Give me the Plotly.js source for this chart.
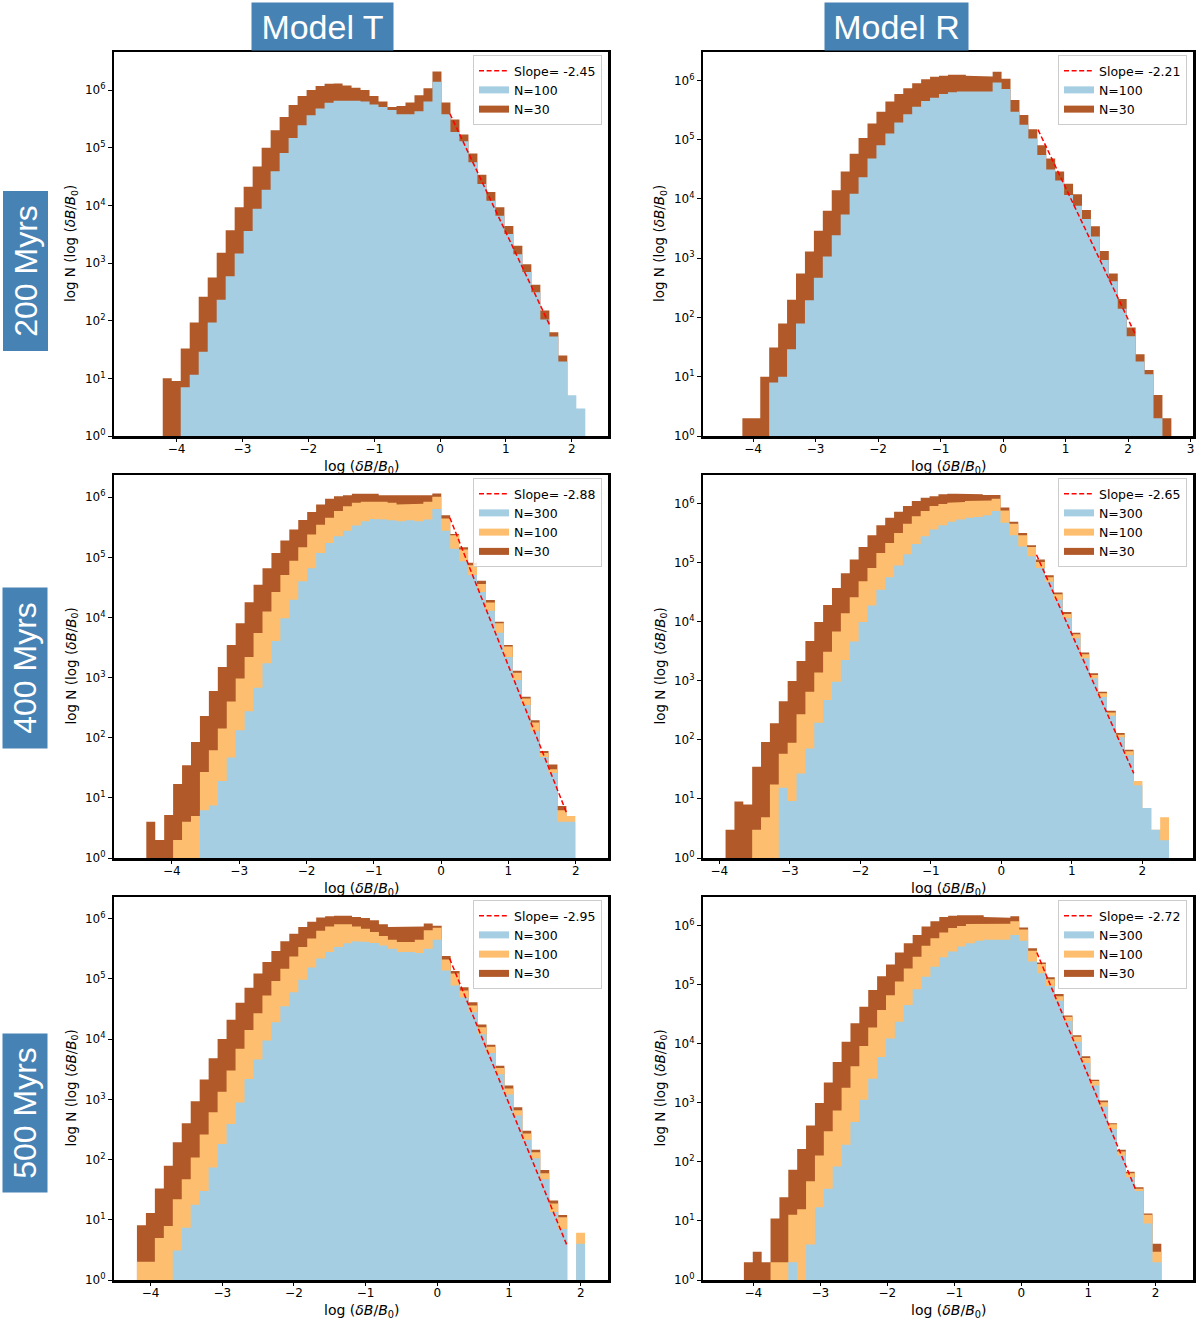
<!DOCTYPE html>
<html>
<head>
<meta charset="utf-8">
<script src="https://cdn.plot.ly/plotly-3.0.1.min.js"></script>
<style>
  html, body { margin: 0; padding: 0; background: #ffffff; }
  #chart { width: 1200px; height: 1322px; }
</style>
</head>
<body>
<div id="chart"></div>
<script>
// ---------------- DATA ----------------
const xTickValues = [-4, -3, -2, -1, 0, 1, 2, 3];
const yTickValues = [1, 10, 100, 1000, 10000, 100000, 1000000];
const yTickLabels = ['10<sup>0</sup>', '10<sup>1</sup>', '10<sup>2</sup>', '10<sup>3</sup>', '10<sup>4</sup>', '10<sup>5</sup>', '10<sup>6</sup>'];
const columnTitles = ['Model T', 'Model R'];
const rowTitles = ['200 Myrs', '400 Myrs', '500 Myrs'];

// Model T, 200 Myrs  (bins: first left edge, bin width)
const t200_binStart = -4.21, t200_binWidth = 0.1365;
const t200_n30 = [10, 9, 33, 93, 260, 560, 1500, 3700, 9300, 21000, 47000, 100000, 200000, 340000, 550000, 790000, 1.0e6, 1.17e6, 1.29e6, 1.3e6, 1.2e6, 1.1e6, 1.0e6, 790000, 630000, 510000, 530000, 610000, 810000, 1.07e6, 2.1e6, 610000, 310000, 170000, 79000, 34000, 17000, 9300, 4400, 2000, 950, 420, 150, 63, 25, null, null];
const t200_n100 = [null, null, 7, 11.5, 29, 93, 230, 590, 1470, 3600, 8700, 18700, 39000, 81000, 148000, 245000, 365000, 480000, 600000, 650000, 660000, 650000, 630000, 560000, 510000, 450000, 380000, 380000, 430000, 630000, 1.4e6, 380000, 187000, 129000, 56000, 23500, 12000, 6600, 3200, 1420, 700, 310, 105, 53, 19.5, 5.1, 3];
const t200_slopeLabel = 'Slope= -2.45';
const t200_slopeX = [0.15, 1.67];
const t200_slopeY = [389000, 81];

// Model R, 200 Myrs
const r200_binStart = -4.17, r200_binWidth = 0.143;
const r200_n30 = [2, 2, 10, 31, 79, 200, 550, 1300, 2900, 6300, 14000, 29000, 58000, 107000, 188000, 295000, 440000, 590000, 740000, 900000, 1.05e6, 1.15e6, 1.2e6, 1.25e6, 1.25e6, 1.2e6, 1.17e6, 1.17e6, 1.4e6, 1.07e6, 470000, 260000, 150000, 81000, 48000, 29000, 18000, 12000, 6500, 3450, 1330, 550, 205, 68, 24, 13, 4.9, 2];
const r200_n100 = [null, null, null, 8, 10, 29, 79, 195, 470, 1070, 2450, 5450, 12200, 23300, 48000, 81000, 127000, 196000, 270000, 360000, 450000, 510000, 590000, 630000, 650000, 650000, 650000, 650000, 920000, 720000, 295000, 178000, 105000, 55000, 31500, 20500, 11700, 7700, 4600, 2330, 930, 410, 140, 48, 18, 11, 2, null];
const r200_slopeLabel = 'Slope= -2.21';
const r200_slopeX = [0.56, 2.12];
const r200_slopeY = [148000, 51];

// Model T, 400 Myrs
const t400_binStart = -4.38, t400_binWidth = 0.1328;
const t400_n30 = [4, 2, 5.2, 17, 35, 85, 230, 600, 1500, 3500, 8000, 18000, 35000, 66000, 118000, 190000, 290000, 420000, 570000, 760000, 940000, 1.04e6, 1.08e6, 1.14e6, 1.14e6, 1.14e6, 1.08e6, 1.08e6, 1.05e6, 1.05e6, 1.05e6, 1.08e6, 1.15e6, 500000, 245000, 147000, 81000, 41000, 19500, 8500, 3500, 1300, 480, 195, 60, 36, 7.3, null];
const t400_n100 = [null, null, null, 2, 4, 5, 27, 62, 142, 400, 970, 2200, 5500, 12600, 26500, 51000, 88000, 147000, 240000, 350000, 455000, 590000, 710000, 810000, 840000, 860000, 840000, 810000, 760000, 760000, 780000, 840000, 1.02e6, 445000, 234000, 135000, 74000, 36000, 17700, 8000, 3300, 1200, 450, 180, 56, 30, 6.2, 5];
const t400_n300 = [null, null, null, null, null, null, 6.2, 7.5, 19, 47, 133, 276, 680, 1730, 4050, 9700, 19700, 40000, 66000, 118000, 174000, 225000, 278000, 340000, 400000, 436000, 425000, 415000, 400000, 415000, 400000, 425000, 640000, 278000, 139000, 86000, 51000, 26500, 13000, 5600, 2200, 910, 350, 128, 48, 26, 4, 4];
const t400_slopeLabel = 'Slope= -2.88';
const t400_slopeX = [0.13, 1.86];
const t400_slopeY = [457000, 5.8];

// Model R, 400 Myrs
const r400_binStart = -3.91, r400_binWidth = 0.1258;
const r400_n30 = [3, 9, 8, 35, 92, 190, 450, 990, 2150, 4700, 9800, 19000, 37000, 66000, 112000, 182000, 288000, 425000, 570000, 720000, 900000, 1.1e6, 1.25e6, 1.32e6, 1.42e6, 1.45e6, 1.45e6, 1.45e6, 1.42e6, 1.38e6, 1.38e6, 850000, 490000, 315000, 196000, 112000, 61000, 31000, 14500, 6500, 3000, 1330, 650, 310, 130, 68, null, null, null, null];
const r400_n100 = [null, null, null, 3, 4.9, 17.6, 58, 89, 270, 650, 1370, 3100, 6800, 13800, 25700, 48000, 81000, 145000, 214000, 316000, 450000, 605000, 740000, 900000, 980000, 1.02e6, 1.05e6, 1.1e6, 1.12e6, 1.12e6, 1.2e6, 760000, 450000, 290000, 182000, 102000, 56000, 29000, 13400, 6100, 2800, 1250, 610, 290, 122, 64, 20, 7, 3, 4.9];
const r400_n300 = [null, null, null, null, null, null, 15.5, 9.2, 27, 71, 195, 470, 960, 2240, 4600, 9800, 18700, 34500, 56000, 89000, 138000, 205000, 277000, 360000, 425000, 490000, 535000, 570000, 590000, 630000, 740000, 470000, 288000, 187000, 127000, 81000, 47000, 23300, 11400, 5200, 2400, 1100, 530, 255, 110, 55, 17, 7, 3, 2];
const r400_slopeLabel = 'Slope= -2.65';
const r400_slopeX = [0.50, 1.88];
const r400_slopeY = [135000, 27];

// Model T, 500 Myrs
const t500_binStart = -4.19, t500_binWidth = 0.125;
const t500_n30 = [8.1, 13, 33, 79, 194, 400, 930, 2130, 4800, 10000, 21000, 40000, 71000, 123000, 191000, 290000, 420000, 560000, 725000, 890000, 1.05e6, 1.1e6, 1.12e6, 1.12e6, 1.07e6, 1.03e6, 940000, 810000, 725000, 725000, 725000, 745000, 830000, 760000, 240000, 135000, 73000, 41000, 17500, 8100, 3600, 1700, 740, 300, 145, 67, 21, 12, null, null];
const t500_n100 = [2, 2, 5, 7.9, 22, 47, 108, 260, 610, 1340, 3000, 6900, 14200, 27000, 53000, 92000, 148000, 236000, 340000, 470000, 630000, 745000, 810000, 810000, 745000, 680000, 600000, 515000, 447000, 410000, 410000, 447000, 645000, 710000, 210000, 123000, 64000, 36000, 15700, 7500, 3300, 1520, 660, 270, 132, 59, 18.6, 11, null, 6.1];
const t500_n300 = [null, null, null, null, 3.1, 7.4, 17.7, 30, 74, 181, 390, 890, 2180, 4570, 9500, 19000, 35000, 60000, 97000, 155000, 218000, 280000, 340000, 390000, 420000, 410000, 395000, 360000, 316000, 280000, 280000, 270000, 316000, 447000, 138000, 78000, 49000, 28000, 12000, 5900, 2600, 1200, 540, 214, 105, 47, 13.5, 7, null, 4];
const t500_slopeLabel = 'Slope= -2.95';
const t500_slopeX = [0.17, 1.81];
const t500_slopeY = [219000, 3.7];

// Model R, 500 Myrs
const r500_binStart = -4.14, r500_binWidth = 0.1325;
const r500_n30 = [2, 3, 2, 11, 25, 73, 165, 410, 990, 2200, 4900, 10700, 22000, 42000, 81000, 138000, 218000, 347000, 500000, 690000, 960000, 1.17e6, 1.38e6, 1.45e6, 1.48e6, 1.48e6, 1.48e6, 1.38e6, 1.35e6, 1.35e6, 1.42e6, 920000, 410000, 235000, 132000, 69000, 30000, 13800, 6100, 2450, 1090, 450, 160, 68, 37, 13.4, 4.1];
const r500_n100 = [null, null, null, 2, 2, 12.7, 15.8, 47, 128, 330, 740, 1790, 4150, 9100, 18700, 37000, 66000, 112000, 187000, 295000, 450000, 605000, 760000, 900000, 980000, 1.05e6, 1.07e6, 1.07e6, 1.07e6, 1.07e6, 1.17e6, 850000, 372000, 222000, 123000, 63000, 28500, 13000, 5700, 2330, 1020, 430, 150, 64, 35, 12.7, 3];
const r500_n300 = [null, null, null, null, null, 2, null, 4, 17, 35, 83, 195, 470, 1120, 2550, 5900, 12200, 23300, 45000, 83000, 135000, 200000, 288000, 360000, 437000, 500000, 550000, 570000, 570000, 570000, 690000, 550000, 245000, 155000, 94000, 53000, 24000, 10700, 4700, 1960, 850, 360, 128, 55, 32, 9, 2];
const r500_slopeLabel = 'Slope= -2.72';
const r500_slopeX = [0.23, 1.70];
const r500_slopeY = [347000, 35];

// ---------------- STYLE / LAYOUT ----------------
const C_BLUE = '#a6cee3', C_ORANGE = '#fdbf6f', C_BROWN = '#b15928';
const W = 1200, H = 1322;
const FONT = 'DejaVu Sans, Verdana, sans-serif';
const FILL_BASE = 0.05; // below the visible log range; clipped by the axes

const colPx = [[114, 608], [703, 1193]];
const rowPx = [[52, 436], [475, 858], [897, 1280]];

const panels = [
  { row: 0, col: 0, start: t200_binStart, w: t200_binWidth,
    series: [{ name: 'N=30', y: t200_n30, c: C_BROWN, rank: 4 }, { name: 'N=100', y: t200_n100, c: C_BLUE, rank: 2 }],
    sx: t200_slopeX, sy: t200_slopeY, sl: t200_slopeLabel, xr: [-4.95, 2.55], yr: [0, 6.66] },
  { row: 0, col: 1, start: r200_binStart, w: r200_binWidth,
    series: [{ name: 'N=30', y: r200_n30, c: C_BROWN, rank: 4 }, { name: 'N=100', y: r200_n100, c: C_BLUE, rank: 2 }],
    sx: r200_slopeX, sy: r200_slopeY, sl: r200_slopeLabel, xr: [-4.8, 3.04], yr: [0, 6.48] },
  { row: 1, col: 0, start: t400_binStart, w: t400_binWidth,
    series: [{ name: 'N=30', y: t400_n30, c: C_BROWN, rank: 4 }, { name: 'N=100', y: t400_n100, c: C_ORANGE, rank: 3 }, { name: 'N=300', y: t400_n300, c: C_BLUE, rank: 2 }],
    sx: t400_slopeX, sy: t400_slopeY, sl: t400_slopeLabel, xr: [-4.86, 2.48], yr: [0, 6.37] },
  { row: 1, col: 1, start: r400_binStart, w: r400_binWidth,
    series: [{ name: 'N=30', y: r400_n30, c: C_BROWN, rank: 4 }, { name: 'N=100', y: r400_n100, c: C_ORANGE, rank: 3 }, { name: 'N=300', y: r400_n300, c: C_BLUE, rank: 2 }],
    sx: r400_slopeX, sy: r400_slopeY, sl: r400_slopeLabel, xr: [-4.23, 2.72], yr: [0, 6.48] },
  { row: 2, col: 0, start: t500_binStart, w: t500_binWidth,
    series: [{ name: 'N=30', y: t500_n30, c: C_BROWN, rank: 4 }, { name: 'N=100', y: t500_n100, c: C_ORANGE, rank: 3 }, { name: 'N=300', y: t500_n300, c: C_BLUE, rank: 2 }],
    sx: t500_slopeX, sy: t500_slopeY, sl: t500_slopeLabel, xr: [-4.51, 2.38], yr: [0, 6.36] },
  { row: 2, col: 1, start: r500_binStart, w: r500_binWidth,
    series: [{ name: 'N=30', y: r500_n30, c: C_BROWN, rank: 4 }, { name: 'N=100', y: r500_n100, c: C_ORANGE, rank: 3 }, { name: 'N=300', y: r500_n300, c: C_BLUE, rank: 2 }],
    sx: r500_slopeX, sy: r500_slopeY, sl: r500_slopeLabel, xr: [-4.75, 2.56], yr: [0, 6.48] }
];

// step outline (like matplotlib histtype='stepfilled') built from the bin counts
function stepOutline(start, w, counts) {
  const xs = [start], ys = [FILL_BASE];
  counts.forEach((v, k) => {
    const yv = (v === null || v === undefined) ? FILL_BASE : v;
    xs.push(start + k * w, start + (k + 1) * w);
    ys.push(yv, yv);
  });
  xs.push(start + counts.length * w);
  ys.push(FILL_BASE);
  return { xs, ys };
}

const traces = [];
const layout = {
  width: W, height: H,
  margin: { l: 0, r: 0, t: 0, b: 0 },
  paper_bgcolor: '#ffffff', plot_bgcolor: '#ffffff',
  showlegend: true,
  annotations: [], shapes: []
};

panels.forEach((p, i) => {
  const n = i + 1;
  const xa = n === 1 ? 'x' : 'x' + n;
  const ya = n === 1 ? 'y' : 'y' + n;
  const lg = n === 1 ? 'legend' : 'legend' + n;
  const [px0, px1] = colPx[p.col];
  const [py0, py1] = rowPx[p.row];

  p.series.forEach(s => {
    const o = stepOutline(p.start, p.w, s.y);
    traces.push({
      type: 'scatter', mode: 'lines', x: o.xs, y: o.ys, name: s.name,
      fill: 'toself', fillcolor: s.c,
      line: { color: s.c, width: 0 },
      xaxis: xa, yaxis: ya, showlegend: false, hoverinfo: 'skip'
    });
    // legend patch entry (no data of its own)
    traces.push({
      type: 'scatter', mode: 'lines', x: [null], y: [null], name: s.name,
      line: { color: s.c, width: 7 },
      xaxis: xa, yaxis: ya, legend: lg, legendrank: s.rank, showlegend: true, hoverinfo: 'skip'
    });
  });
  traces.push({
    type: 'scatter', mode: 'lines', x: p.sx, y: p.sy, name: p.sl,
    line: { color: '#ff0000', dash: '5px,2.6px', width: 1.5 },
    xaxis: xa, yaxis: ya, legend: lg, legendrank: 1, hoverinfo: 'skip'
  });

  layout['xaxis' + (n === 1 ? '' : n)] = {
    domain: [px0 / W, px1 / W], range: p.xr, anchor: ya,
    tickmode: 'array', tickvals: xTickValues,
    ticks: 'outside', ticklen: 3.5, tickwidth: 1, tickcolor: '#000',
    ticklabelstandoff: -3,
    showline: true, linecolor: '#000', linewidth: 2.5, mirror: true,
    showgrid: false, zeroline: false,
    tickfont: { family: FONT, size: 12, color: '#000' }
  };
  layout['yaxis' + (n === 1 ? '' : n)] = {
    domain: [1 - py1 / H, 1 - py0 / H], type: 'log', range: p.yr, anchor: xa,
    tickmode: 'array', tickvals: yTickValues, ticktext: yTickLabels,
    ticks: 'outside', ticklen: 3.5, tickwidth: 1, tickcolor: '#000',
    showline: true, linecolor: '#000', linewidth: 2.5, mirror: true,
    showgrid: false, zeroline: false,
    tickfont: { family: FONT, size: 12, color: '#000' }
  };
  layout[lg] = {
    x: (px1 - 6) / W, y: 1 - (py0 + 3) / H, xanchor: 'right', yanchor: 'top',
    xref: 'paper', yref: 'paper',
    traceorder: 'normal',
    bgcolor: 'rgba(255,255,255,0.85)', bordercolor: '#cccccc', borderwidth: 1,
    font: { family: FONT, size: 12.5, color: '#000' },
    itemwidth: 30, tracegroupgap: 0
  };

  // axis titles
  layout.annotations.push({
    text: 'log (<i>δB</i>/<i>B</i><sub>0</sub>)', xref: 'paper', yref: 'paper',
    x: (px0 + px1) / 2 / W, y: 1 - (py1 + 31) / H, xanchor: 'center', yanchor: 'middle',
    showarrow: false, font: { family: FONT, size: 14, color: '#000' }
  });
  layout.annotations.push({
    text: 'log N (log (<i>δB</i>/<i>B</i><sub>0</sub>)', xref: 'paper', yref: 'paper',
    x: (px0 - 43) / W, y: 1 - (py0 + py1) / 2 / H, xanchor: 'center', yanchor: 'middle',
    textangle: -90, showarrow: false, font: { family: FONT, size: 13.5, color: '#000' }
  });
});

// column headers
const headerPx = [[252, 393], [825, 968]];
columnTitles.forEach((t, k) => {
  const [a, b] = headerPx[k];
  layout.annotations.push({
    text: t, xref: 'paper', yref: 'paper', x: (a + b) / 2 / W, y: 1 - 26.5 / H,
    xanchor: 'center', yanchor: 'middle', showarrow: false,
    bgcolor: '#4682b4', width: b - a, height: 47, borderpad: 0,
    font: { family: 'Liberation Sans, Arial, sans-serif', size: 34, color: '#ffffff' }
  });
});

// row headers
const rowLabelPx = [[192, 351], [588, 748], [1034, 1192]];
rowTitles.forEach((t, k) => {
  const [a, b] = rowLabelPx[k];
  layout.annotations.push({
    text: t, xref: 'paper', yref: 'paper', x: 25 / W, y: 1 - (a + b) / 2 / H,
    xanchor: 'center', yanchor: 'middle', showarrow: false, textangle: -90,
    bgcolor: '#4682b4', width: b - a, height: 44, borderpad: 0,
    font: { family: 'Liberation Sans, Arial, sans-serif', size: 32, color: '#ffffff' }
  });
});

Plotly.newPlot('chart', traces, layout, { staticPlot: true, displayModeBar: false });
</script>
</body>
</html>
